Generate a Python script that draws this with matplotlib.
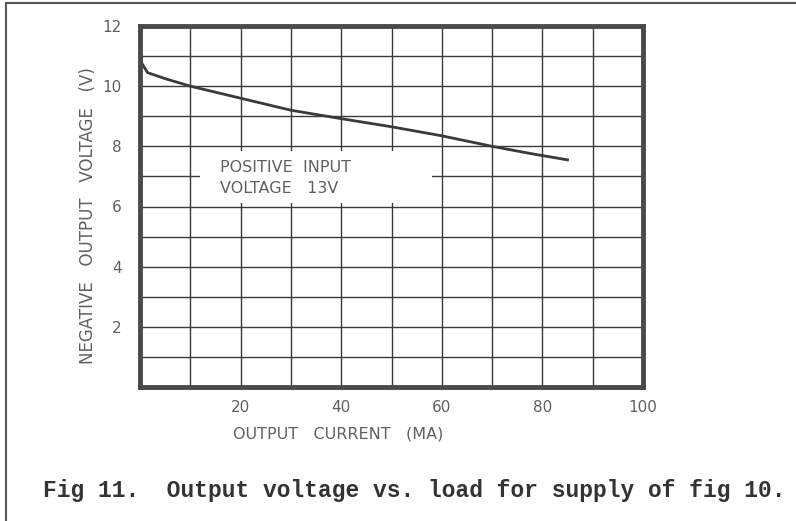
import numpy as np
import matplotlib
matplotlib.use("Agg")
import matplotlib.pyplot as plt
from matplotlib.lines import Line2D
from matplotlib.patches import Rectangle

# curve
current_ma = [0, 0.4, 1.5, 5, 10, 20, 30, 40, 50, 60, 70, 78, 85]
voltage_v = [11.0, 10.75, 10.45, 10.25, 10.0, 9.6, 9.2, 8.92, 8.65, 8.35, 8.0, 7.75, 7.55]

x_ticks = [20, 40, 60, 80, 100]
y_ticks = [2, 4, 6, 8, 10, 12]
x_grid = np.arange(0, 101, 10)
y_grid = np.arange(0, 13, 1)

_INK = "#3a3a3a"
_TEXT = "#606060"

fig = plt.figure(figsize=(7.96, 5.21), dpi=100)
ax = fig.add_axes([140 / 796, 134 / 521, 503 / 796, 361 / 521])

ax.set_xlim(0, 100)
ax.set_ylim(0, 12)
ax.set_xticks(x_ticks)
ax.set_yticks(y_ticks)
ax.set_xticks(x_grid, minor=True)
ax.set_yticks(y_grid, minor=True)
ax.grid(which="both", color=_INK, linewidth=1.0)
ax.set_axisbelow(True)
ax.tick_params(which="both", length=0, labelsize=11, labelcolor=_TEXT)
ax.tick_params(axis="x", pad=9)
ax.tick_params(axis="y", pad=13)
for s in ax.spines.values():
    s.set_linewidth(3.5)
    s.set_color("#4a4a4a")
    s.set_zorder(5)

ax.plot(current_ma, voltage_v, color=_INK, linewidth=2.0, zorder=3)

# white patch where the grid is blanked behind the note
ax.add_patch(Rectangle((12, 6.1), 46, 1.75, facecolor="white", edgecolor="none", zorder=2))
ax.text(16, 6.95, "POSITIVE  INPUT\nVOLTAGE   13V", fontsize=11.5, color=_TEXT,
        ha="left", va="center", linespacing=1.55, zorder=3)

fig.text(338 / 796, 1 - 434 / 521, "OUTPUT   CURRENT   (MA)", fontsize=11.5,
         color=_TEXT, ha="center", va="center")
fig.text(88 / 796, 1 - 216 / 521, "NEGATIVE   OUTPUT   VOLTAGE   (V)", fontsize=12,
         color=_TEXT, ha="center", va="center", rotation=90)

fig.text(414 / 796, 1 - 490 / 521, "Fig 11.  Output voltage vs. load for supply of fig 10.",
         family="Liberation Mono", weight="bold", fontsize=16.5, color="#333333",
         ha="center", va="center")

# scan frame: top and left edge only
fig.add_artist(Line2D([6 / 796, 1], [1 - 3 / 521, 1 - 3 / 521], color="#555555", linewidth=1.5))
fig.add_artist(Line2D([6 / 796, 6 / 796], [0, 1 - 3 / 521], color="#555555", linewidth=1.5))

fig.savefig("out.png", dpi=100)
